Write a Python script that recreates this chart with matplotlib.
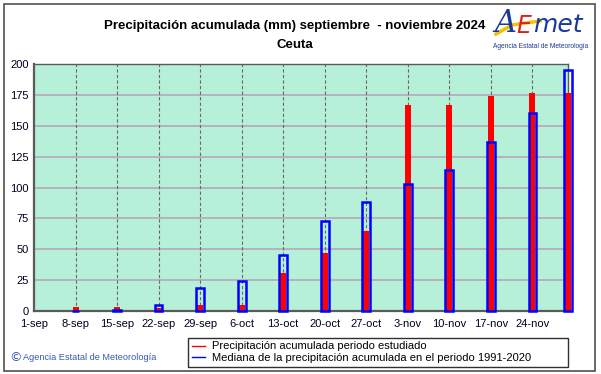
import numpy as np
import matplotlib
matplotlib.use('Agg')
import matplotlib.pyplot as plt
from matplotlib.lines import Line2D
from matplotlib.patches import Rectangle

plt.rcParams['font.family'] = ['Liberation Sans', 'DejaVu Sans']

# dias desde el 1 de septiembre
dias = [7, 14, 21, 28, 35, 42, 49, 56, 63, 70, 77, 84, 90]
prec_2024 = [3.5, 3.5, 2.5, 4.9, 4.9, 30.5, 47, 64.8, 166.8, 166.8, 174.4, 176.5, 176.5]
mediana = [0, 1, 4.6, 18.4, 24.5, 45.6, 72.9, 88.5, 102.6, 114, 136.6, 160, 195.4]

tick_dias = list(range(0, 85, 7))
tick_labels = ['1-sep', '8-sep', '15-sep', '22-sep', '29-sep', '6-oct', '13-oct',
               '20-oct', '27-oct', '3-nov', '10-nov', '17-nov', '24-nov']

fig = plt.figure(figsize=(6.01, 3.74), dpi=100)
ax = fig.add_axes([34/601, 1-311/374, 534/601, 247/374])

ax.set_facecolor('#b6f0d8')
ax.set_xlim(0, 90)
ax.set_ylim(0, 200)

# rejilla
for y in range(25, 201, 25):
    ax.axhline(y, color='#b8a6b8', lw=1.2, zorder=1)
for x in tick_dias[1:]:
    ax.axvline(x, color='#6a6a6a', lw=0.8, ls=(0, (3, 2)), zorder=1)

ax.bar(dias, prec_2024, width=1.0, color='#ff0000', zorder=3, clip_on=False)
ax.bar(dias, mediana, width=1.3, facecolor='none', edgecolor='#0000ff',
       linewidth=1.8, zorder=4, clip_on=False)

ax.set_xticks(tick_dias)
ax.set_xticklabels(tick_labels)
ax.set_yticks(range(0, 201, 25))
ax.tick_params(length=0, labelsize=8, colors='#000020', pad=6)
ax.tick_params(axis='y', pad=4)
for s in ax.spines.values():
    s.set_color('#5a5a5a')
ax.spines['left'].set_linewidth(1.6)
ax.spines['bottom'].set_linewidth(1.6)
ax.spines['top'].set_linewidth(1.0)
ax.spines['right'].set_linewidth(1.0)

fig.text(0.491, 1-26/374, 'Precipitación acumulada (mm) septiembre  - noviembre 2024',
         ha='center', va='center', fontsize=9.5, fontweight='bold')
fig.text(0.491, 1-45/374, 'Ceuta', ha='center', va='center', fontsize=9.5, fontweight='bold')

# logo
fig.add_artist(Line2D([496/601, 512/601, 540/601], [1-34/374, 1-25/374, 1-21/374],
                      color='#f5c000', lw=2.5, transform=fig.transFigure))
fig.text(494/601, 1-24/374, 'A', color='#1a3a9a', fontsize=22, style='italic',
         ha='left', va='center', family='DejaVu Serif')
fig.text(516/601, 1-26/374, 'E', color='#e02020', fontsize=17, style='italic',
         ha='left', va='center', family='DejaVu Sans')
fig.text(533/601, 1-25/374, 'met', color='#1a3a9a', fontsize=18, style='italic',
         ha='left', va='center', family='DejaVu Sans')
fig.text(541/601, 1-47/374, 'Agencia Estatal de Meteorología', color='#1a3a9a',
         fontsize=4.8, ha='center', va='center')

# leyenda
handles = [Line2D([], [], color='#ff0000', lw=1),
           Line2D([], [], color='#0000ff', lw=1)]
leg = fig.legend(handles, ['Precipitación acumulada periodo estudiado',
                           'Mediana de la precipitación acumulada en el periodo 1991-2020'],
                 loc='lower left', bbox_to_anchor=(188/601, 1-367/374, 380/601, 31/374),
                 mode='expand', borderaxespad=0, fontsize=8, handlelength=1.2,
                 labelspacing=0.15, borderpad=0.35, handletextpad=0.6,
                 fancybox=False, framealpha=1, edgecolor='#303030')
leg.get_frame().set_linewidth(1.0)

fig.text(9/601, 1-358/374, '©', color='#3a58b0', fontsize=9,
         ha='left', va='center', family=['DejaVu Sans'])
fig.text(23/601, 1-358/374, 'Agencia Estatal de Meteorología', color='#3a58b0',
         fontsize=6.6, ha='left', va='center')

# marco
fig.add_artist(Rectangle((4/601, 3/374), 591/601, 367/374, fill=False,
                         edgecolor='#505050', lw=1.2, transform=fig.transFigure))

fig.savefig('out.png', dpi=100)
